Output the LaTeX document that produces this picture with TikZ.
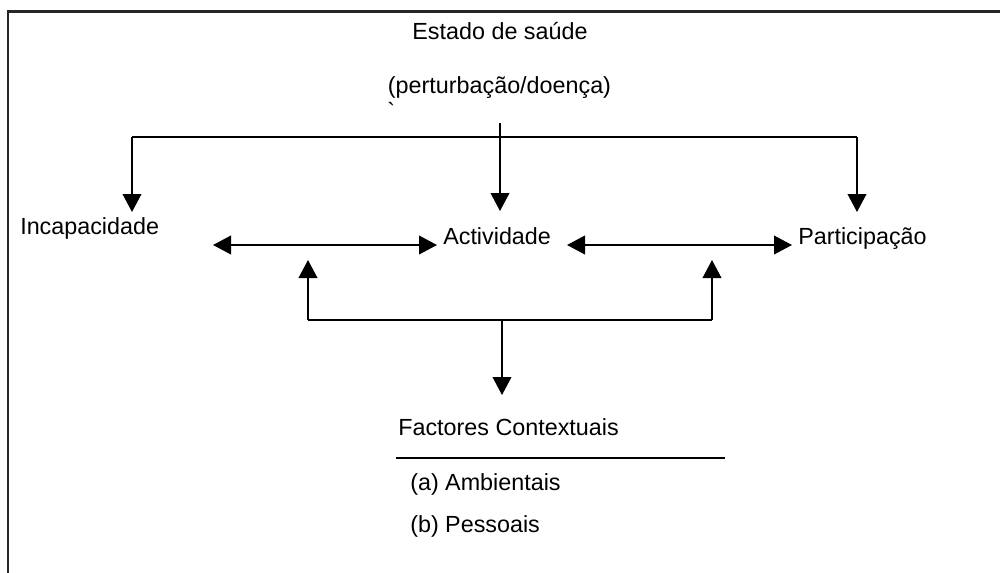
\documentclass[tikz,border=0pt]{standalone}
\usepackage{fontspec}
\setmainfont{Liberation Sans}
\newfontfamily\plainfont{Liberation Sans}
\usetikzlibrary{arrows.meta}
\begin{document}
\begin{tikzpicture}[x=0.75pt,y=-0.75pt,
  lbl/.style={font=\fontsize{17.5}{21}\selectfont, inner sep=0pt, anchor=base west},
  clbl/.style={font=\fontsize{17.5}{21}\selectfont, inner sep=0pt, anchor=base},
  wire/.style={line width=1.3pt},
  conn/.style={line width=1.3pt, -{Triangle[length=13.5pt,width=14pt]}},
  dconn/.style={line width=1.3pt, {Triangle[length=13.5pt,width=14pt]}-{Triangle[length=13.5pt,width=14pt]}},
  frame/.style={line width=1.6pt, draw=black!85}]
\useasboundingbox (0,0) rectangle (1000,572);
% frame (only top and left edges visible)
\draw[frame] (1002,11.5) -- (8,11.5) -- (8,574);

% texts
\node[clbl] (estado) at (500,39) {Estado de saúde};
\node[clbl] (perturb) at (499.5,93) {(perturbação/doença)};
\node[lbl] (grave) at (387,119) {\plainfont\char"0060};
\node[lbl] (incap) at (20,234) {Incapacidade};
\node[lbl] (activ) at (443,244) {Actividade};
\node[lbl] (partic) at (798,244) {Participação};
\node[lbl] (factores) at (398,435) {Factores Contextuais};
\node[lbl] (ambient) at (410,490) {(a) Ambientais};
\node[lbl] (pessoais) at (410,532) {(b) Pessoais};

% junction coordinates
\coordinate (topstem) at (500,123);
\coordinate (topmid) at (500,137);
\coordinate (topL) at (132,137);
\coordinate (topR) at (857,137);
\coordinate (incapIn) at (132,212);
\coordinate (activIn) at (500,211);
\coordinate (particIn) at (857,212);
\coordinate (lA) at (213,245);
\coordinate (lB) at (437,245);
\coordinate (rA) at (567,245);
\coordinate (rB) at (792,245);
\coordinate (upL) at (308,260);
\coordinate (upR) at (712,260);
\coordinate (botL) at (308,320);
\coordinate (botR) at (712,320);
\coordinate (botM) at (502,320);
\coordinate (factIn) at (502,395);
\coordinate (ruleL) at (396,458);
\coordinate (ruleR) at (725,458);

% connectors from the health condition
\draw[conn] (topstem) -- (activIn);
\draw[wire] (topL) -- (topR);
\draw[conn] (topL) -- (incapIn);
\draw[conn] (topR) -- (particIn);

% double arrows
\draw[dconn] (lA) -- (lB);
\draw[dconn] (rA) -- (rB);

% contextual factors loop
\draw[conn] (botL) -- (upL);
\draw[conn] (botR) -- (upR);
\draw[wire] (botL) -- (botR);
\draw[conn] (botM) -- (factIn);

% rule under Factores Contextuais
\draw[wire] (ruleL) -- (ruleR);
\end{tikzpicture}
\end{document}
